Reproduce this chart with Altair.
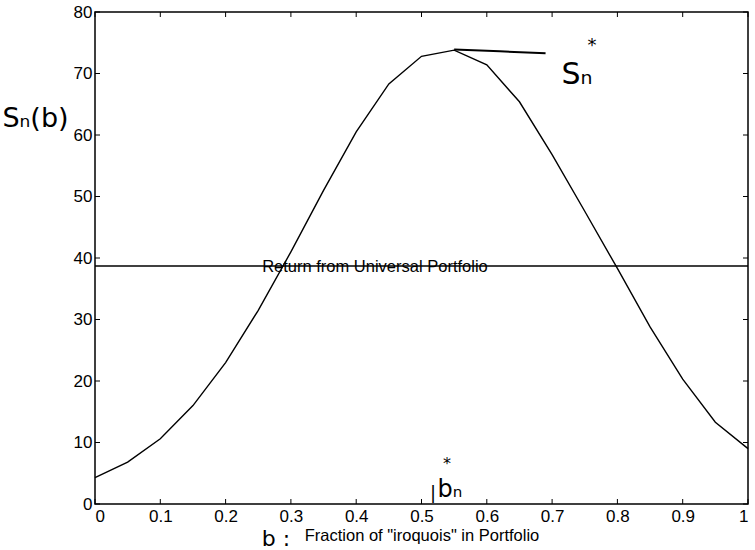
import altair as alt
import pandas as pd

# data
b_vals = [0.0, 0.05, 0.1, 0.15, 0.2, 0.25, 0.3, 0.35, 0.4, 0.45, 0.5, 0.55,
          0.6, 0.65, 0.7, 0.75, 0.8, 0.85, 0.9, 0.95, 1.0]
s_vals = [4.3, 6.8, 10.6, 16.0, 23.0, 31.5, 41.0, 51.0, 60.5, 68.3, 72.8, 73.8,
          71.4, 65.4, 56.8, 47.6, 38.3, 28.8, 20.3, 13.3, 9.0]
universal = 38.7
universal_label = "Return from Universal Portfolio"
x_ticks = [0, 0.1, 0.2, 0.3, 0.4, 0.5, 0.6, 0.7, 0.8, 0.9, 1.0]
y_ticks = [0, 10, 20, 30, 40, 50, 60, 70, 80]
peak_line_b = [0.55, 0.62, 0.69]
peak_line_s = [73.9, 73.6, 73.3]

W, H = 653, 492
FONT = "Liberation Sans"

curve_df = pd.DataFrame({"b": b_vals, "S": s_vals})
xt_df = pd.DataFrame({"v": x_ticks})
yt_df = pd.DataFrame({"v": y_ticks})

xs = alt.Scale(domain=[0, 1], nice=False, zero=False)
ys = alt.Scale(domain=[0, 80], nice=False, zero=False)

x_axis = alt.Axis(values=x_ticks, ticks=False, grid=False, domain=False,
                  labelFont=FONT, labelFontSize=17, labelColor="black",
                  labelPadding=4, title='Fraction of "iroquois" in Portfolio',
                  titleFont=FONT, titleFontSize=16.5, titleFontWeight="normal",
                  titleColor="black", titlePadding=3,
                  labelExpr="datum.value == 1 ? '1' : datum.value == 0 ? '0' : format(datum.value, '.1f')")
y_axis = alt.Axis(values=y_ticks, ticks=False, grid=False, domain=False,
                  labelFont=FONT, labelFontSize=17, labelColor="black",
                  labelPadding=3, title="Sₙ(b)", titleAngle=0,
                  titleFont="DejaVu Sans", titleFontSize=27, titleFontWeight="normal",
                  titleColor="black", titleX=-60, titleY=106, titleAlign="center",
                  titleBaseline="middle")

curve = alt.Chart(curve_df).mark_line(color="black", strokeWidth=1.4).encode(
    x=alt.X("b:Q", scale=xs, axis=x_axis),
    y=alt.Y("S:Q", scale=ys, axis=y_axis),
)

rule = alt.Chart(pd.DataFrame({"u": [universal]})).mark_rule(
    color="black", strokeWidth=1.4).encode(y=alt.Y("u:Q", scale=ys))

label = alt.Chart(pd.DataFrame({"b": [0.256], "u": [universal], "t": [universal_label]})).mark_text(
    align="left", baseline="middle", font=FONT, fontSize=16.5, color="black", dy=1).encode(
    x=alt.X("b:Q", scale=xs), y=alt.Y("u:Q", scale=ys), text="t:N")

# inward ticks on all four sides
tb = alt.Chart(xt_df).mark_rule(color="black", strokeWidth=1).encode(
    x=alt.X("v:Q", scale=xs), y=alt.value(H), y2=alt.value(H - 5))
tt = alt.Chart(xt_df).mark_rule(color="black", strokeWidth=1).encode(
    x=alt.X("v:Q", scale=xs), y=alt.value(0), y2=alt.value(5))
tl = alt.Chart(yt_df).mark_rule(color="black", strokeWidth=1).encode(
    y=alt.Y("v:Q", scale=ys), x=alt.value(0), x2=alt.value(5))
tr = alt.Chart(yt_df).mark_rule(color="black", strokeWidth=1).encode(
    y=alt.Y("v:Q", scale=ys), x=alt.value(W - 5), x2=alt.value(W))

# handwritten-style annotations
peak_line = alt.Chart(pd.DataFrame({"b": peak_line_b, "S": peak_line_s})).mark_line(
    color="black", strokeWidth=2).encode(x=alt.X("b:Q", scale=xs), y=alt.Y("S:Q", scale=ys))

ann_df = pd.DataFrame({
    "t": ["Sₙ", "*", "bₙ", "*", "|", "b :"],
    "x": [577, 592, 450, 447, 433, 276],
    "y": [75, 46, 490, 464, 494, 539],
    "s": [30, 18, 24, 16, 18, 22],
})
ann = alt.Chart(ann_df).transform_calculate(
    px="datum.x - 95", py="datum.y - 12").mark_text(
    font="DejaVu Sans", color="black", align="center", baseline="middle").encode(
    x=alt.X("px:Q", scale=None), y=alt.Y("py:Q", scale=None), text="t:N",
    size=alt.Size("s:Q", scale=None, legend=None))

chart = alt.layer(curve, rule, label, tb, tt, tl, tr, peak_line, ann).properties(
    width=W, height=H,
    padding={"left": 95, "top": 12, "right": 7, "bottom": 46},
    autosize=alt.AutoSizeParams(type="none"),
    background="white",
).configure_view(stroke="black", strokeWidth=1.5)

chart.save("out.html", embed_options={"renderer": "svg", "actions": False})
